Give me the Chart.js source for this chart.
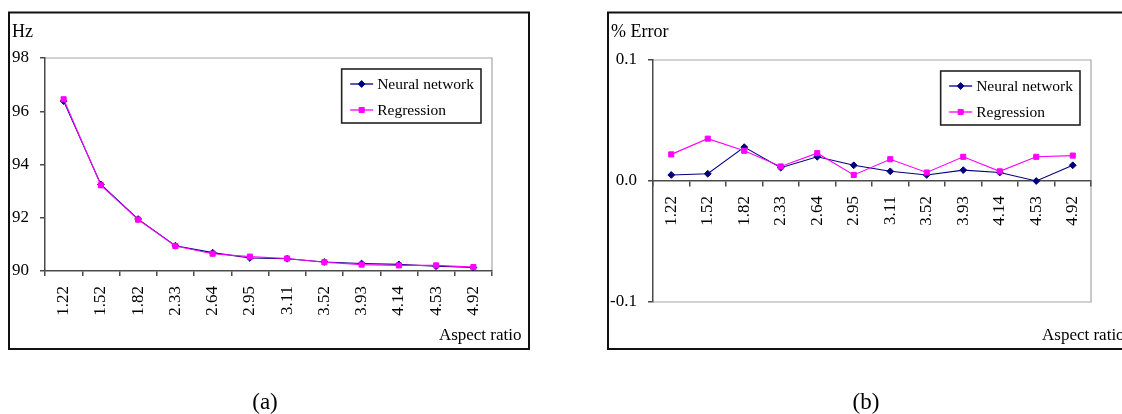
<!DOCTYPE html>
<html>
<head>
<meta charset="utf-8">
<script src="https://cdn.jsdelivr.net/npm/chart.js@4/dist/chart.umd.min.js"></script>
<style>
  html, body { margin: 0; padding: 0; background: #fff; }
  .panel { position: absolute; top: 0; width: 561px; height: 414px; }
</style>
</head>
<body>
<div class="panel" style="left:0"><canvas id="freqChart" width="561" height="414"></canvas></div>
<div class="panel" style="left:561px"><canvas id="errChart" width="561" height="414"></canvas></div>
<script>
// Aspect ratios of the plates (category axis)
const aspectRatios = ['1.22', '1.52', '1.82', '2.33', '2.64', '2.95', '3.11', '3.52', '3.93', '4.14', '4.53', '4.92'];

// (a) natural frequency, Hz
const freqNeural     = [96.38, 93.25, 91.95, 90.95, 90.69, 90.49, 90.46, 90.34, 90.28, 90.25, 90.18, 90.13];
const freqRegression = [96.45, 93.22, 91.93, 90.94, 90.65, 90.54, 90.47, 90.33, 90.24, 90.21, 90.21, 90.15];

// (b) percentage error
const errNeural     = [0.005, 0.006, 0.028, 0.011, 0.020, 0.013, 0.008, 0.005, 0.009, 0.007, 0.000, 0.013];
const errRegression = [0.022, 0.035, 0.025, 0.012, 0.023, 0.005, 0.018, 0.007, 0.020, 0.008, 0.020, 0.021];

// Tick values on the value axes
const freqTicks = [90, 92, 94, 96, 98];
const errTicks  = [-0.1, 0.0, 0.1];

const seriesNames = ['Neural network', 'Regression'];

const SERIF = '"Liberation Serif", "Times New Roman", serif';
const NAVY = '#000080';
const MAGENTA = '#ff00ff';
const AXIS = '#4a4a4a';

function seriesSet(neural, regression) {
  return [
    {
      label: seriesNames[0], data: neural, order: 1,
      borderColor: NAVY, backgroundColor: NAVY, borderWidth: 1.1,
      pointStyle: 'rectRot', pointRadius: 3.4, pointBorderWidth: 1,
      pointBackgroundColor: NAVY, pointBorderColor: NAVY, tension: 0
    },
    {
      label: seriesNames[1], data: regression, order: 0,
      borderColor: MAGENTA, backgroundColor: MAGENTA, borderWidth: 1.1,
      pointStyle: 'rect', pointRadius: 3.6, pointBorderWidth: 1,
      pointBackgroundColor: MAGENTA, pointBorderColor: MAGENTA, tension: 0
    }
  ];
}

// Outer frame, plot-area outline, captions and the boxed legend
const panelDecor = {
  id: 'panelDecor',
  beforeDraw(chart, args, opts) {
    const { ctx, chartArea: ca } = chart;
    ctx.save();
    // outer frame
    ctx.strokeStyle = '#111';
    ctx.lineWidth = 2;
    const f = opts.frame;
    ctx.beginPath();
    if (f.openRight) {
      ctx.moveTo(chart.width + 2, f.top);
      ctx.lineTo(f.left, f.top);
      ctx.lineTo(f.left, f.bottom);
      ctx.lineTo(chart.width + 2, f.bottom);
    } else {
      ctx.rect(f.left, f.top, f.right - f.left, f.bottom - f.top);
    }
    ctx.stroke();
    // light outline of the plot area
    ctx.strokeStyle = '#a6a6a6';
    ctx.lineWidth = 1.2;
    ctx.beginPath();
    ctx.moveTo(ca.left, ca.top);
    ctx.lineTo(ca.right, ca.top);
    ctx.lineTo(ca.right, ca.bottom);
    if (opts.outlineBottom) ctx.lineTo(ca.left, ca.bottom);
    ctx.stroke();
    // texts
    ctx.fillStyle = '#000';
    ctx.textBaseline = 'alphabetic';
    for (const t of opts.texts) {
      ctx.font = t.size + 'px ' + SERIF;
      ctx.textAlign = t.align || 'left';
      ctx.fillText(t.text, t.x, t.y);
    }
    ctx.restore();
  },
  afterDatasetsDraw(chart, args, opts) {
    const { ctx, chartArea: ca } = chart;
    const sets = chart.data.datasets;
    ctx.save();
    ctx.font = '15.5px ' + SERIF;
    const tw = Math.max(...sets.map(d => ctx.measureText(d.label).width));
    const w = 8.5 + 23 + 4 + tw + 7;
    const h = 54;
    const x0 = ca.right - opts.legendInset - w;
    const y0 = ca.top + opts.legendInset;
    ctx.fillStyle = '#fff';
    ctx.fillRect(x0, y0, w, h);
    ctx.strokeStyle = '#222';
    ctx.lineWidth = 1.6;
    ctx.strokeRect(x0, y0, w, h);
    sets.forEach((d, i) => {
      const y = y0 + 15 + i * 26;
      ctx.strokeStyle = d.borderColor;
      ctx.lineWidth = 1.3;
      ctx.beginPath();
      ctx.moveTo(x0 + 8.5, y);
      ctx.lineTo(x0 + 31.5, y);
      ctx.stroke();
      ctx.fillStyle = d.pointBackgroundColor;
      ctx.strokeStyle = d.pointBorderColor;
      ctx.lineWidth = 1;
      Chart.helpers.drawPoint(ctx, {
        pointStyle: d.pointStyle, radius: d.pointRadius, borderWidth: 1, rotation: 0
      }, x0 + 20, y);
      ctx.fillStyle = '#000';
      ctx.textAlign = 'left';
      ctx.textBaseline = 'middle';
      ctx.fillText(d.label, x0 + 35.5, y + 1);
    });
    ctx.restore();
  }
};

function valueAxis(tickValues, fmt, width) {
  return {
    type: 'linear',
    position: 'left',
    min: tickValues[0],
    max: tickValues[tickValues.length - 1],
    afterBuildTicks(scale) { scale.ticks = tickValues.map(v => ({ value: v })); },
    afterFit(scale) { scale.width = width; },
    grid: { drawOnChartArea: false, drawTicks: true, tickLength: 5, color: AXIS, lineWidth: 1.5 },
    border: { display: true, color: AXIS, width: 1.5 },
    ticks: { color: '#000', font: { family: SERIF, size: 17 }, padding: 11, callback: fmt }
  };
}

function categoryAxis(extra) {
  return Object.assign({
    type: 'category',
    offset: true,
    grid: { offset: true, drawOnChartArea: false, drawTicks: true, tickLength: 5, color: AXIS, lineWidth: 1.5 },
    border: { display: true, color: AXIS, width: 1.5 },
    ticks: {
      color: '#000', font: { family: SERIF, size: 17 },
      minRotation: 90, maxRotation: 90, autoSkip: false, padding: 10
    }
  }, extra);
}

const common = {
  responsive: false,
  animation: false,
  events: [],
  plugins: { legend: { display: false }, tooltip: { enabled: false } }
};

// (a) frequency chart
new Chart(document.getElementById('freqChart'), {
  type: 'line',
  data: { labels: aspectRatios, datasets: seriesSet(freqNeural, freqRegression) },
  options: Object.assign({}, common, {
    layout: { padding: { left: 0, top: 58, right: 69, bottom: 88 } },
    scales: {
      x: categoryAxis({ position: 'bottom', afterFit(scale) { scale.height = 55; } }),
      y: valueAxis(freqTicks, v => String(v), 45)
    },
    plugins: Object.assign({}, common.plugins, {
      panelDecor: {
        frame: { left: 9, top: 12.5, right: 529, bottom: 349, openRight: false },
        outlineBottom: false,
        legendInset: 11,
        texts: [
          { text: 'Hz', x: 12, y: 37, size: 18 },
          { text: 'Aspect ratio', x: 521.5, y: 340, size: 17, align: 'right' },
          { text: '(a)', x: 265, y: 409, size: 23, align: 'center' }
        ]
      }
    })
  }),
  plugins: [panelDecor]
});

// (b) percentage error chart
new Chart(document.getElementById('errChart'), {
  type: 'line',
  data: { labels: aspectRatios, datasets: seriesSet(errNeural, errRegression) },
  options: Object.assign({}, common, {
    layout: { padding: { left: 0, top: 60, right: 31, bottom: 112 } },
    scales: {
      x: categoryAxis({ position: { y: 0 } }),
      y: valueAxis(errTicks, v => (Math.abs(v) < 1e-9 ? 0 : v).toFixed(1), 92)
    },
    plugins: Object.assign({}, common.plugins, {
      panelDecor: {
        frame: { left: 47, top: 12.5, bottom: 349, openRight: true },
        outlineBottom: true,
        legendInset: 11,
        texts: [
          { text: '% Error', x: 50, y: 37, size: 18 },
          { text: 'Aspect ratio', x: 481, y: 340, size: 17 },
          { text: '(b)', x: 305, y: 409, size: 23, align: 'center' }
        ]
      }
    })
  }),
  plugins: [panelDecor]
});
</script>
</body>
</html>
